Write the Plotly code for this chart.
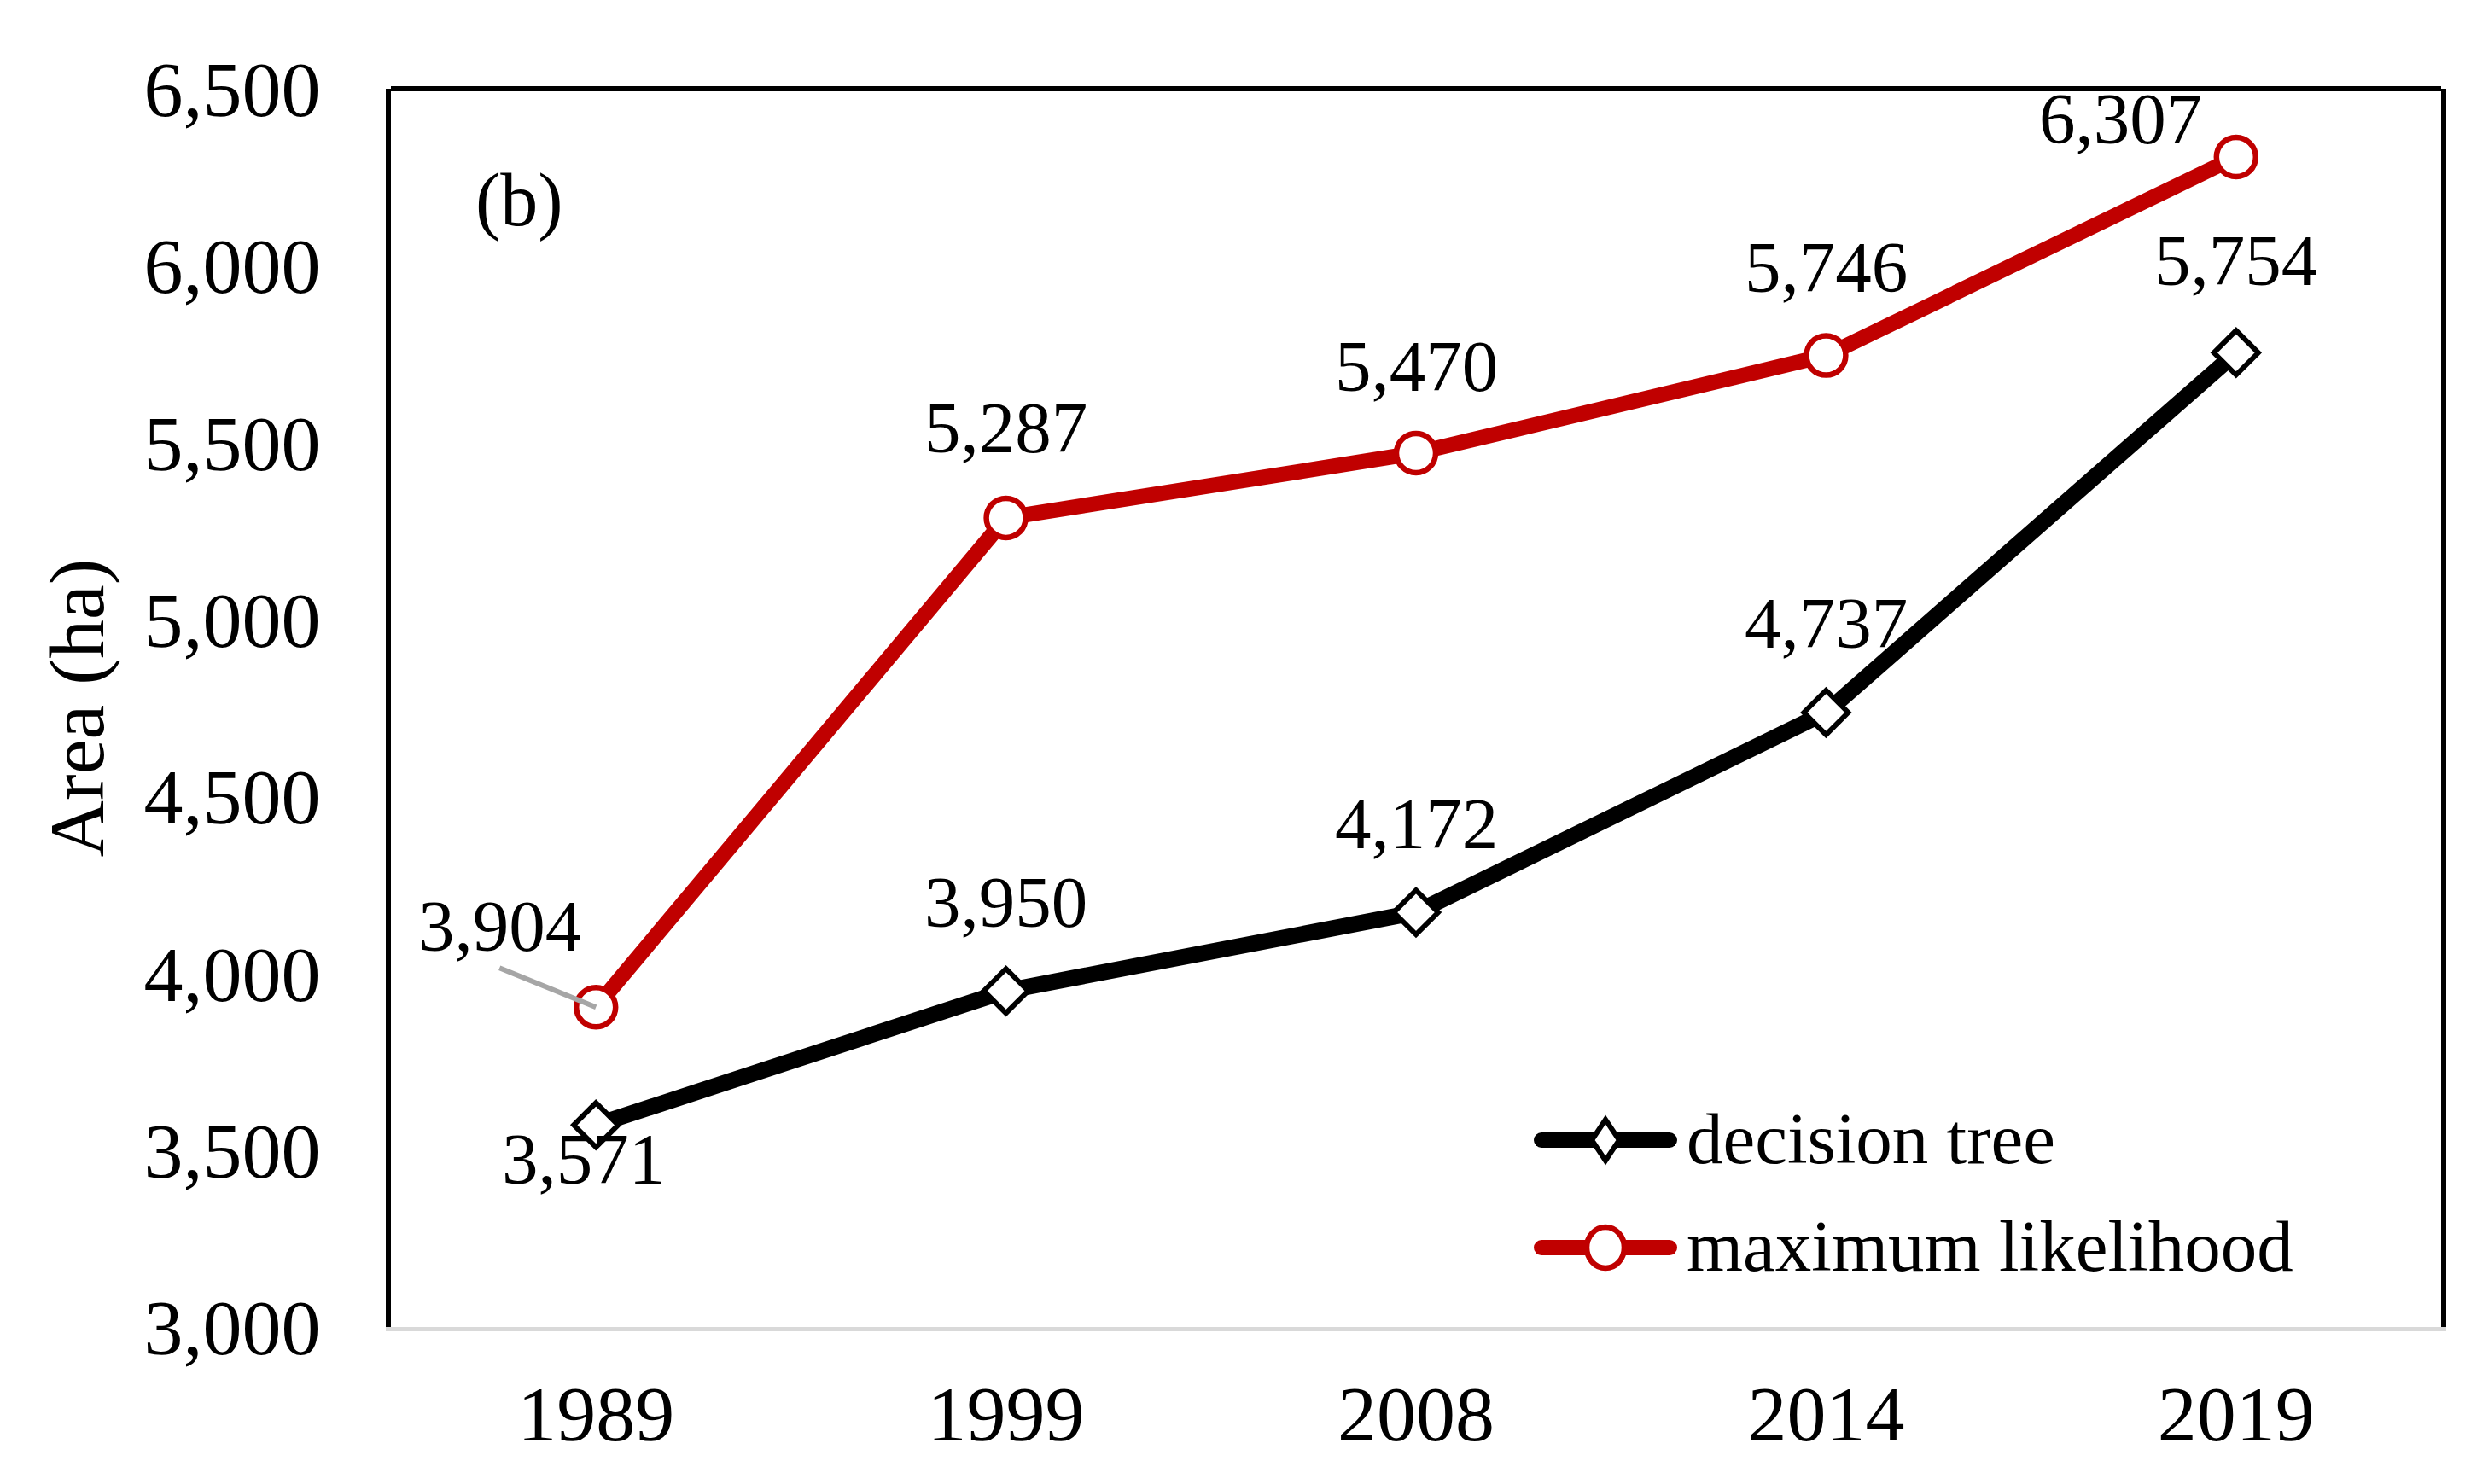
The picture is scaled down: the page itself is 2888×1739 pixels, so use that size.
import plotly.graph_objects as go

# ---- data ----
years = ["1989", "1999", "2008", "2014", "2019"]
decision_tree = [3571, 3950, 4172, 4737, 5754]
maximum_likelihood = [3904, 5287, 5470, 5746, 6307]
y_tick_values = [3000, 3500, 4000, 4500, 5000, 5500, 6000, 6500]
series_names = ["decision tree", "maximum likelihood"]
panel_label = "(b)"
y_title = "Area (ha)"

# ---- style / layout ----
W, H = 2888, 1739
PL, PR, PT, PB = 450, 2852, 96, 1547  # plot area in pixels
FONT = "Liberation Serif"
RED = "#C00000"
BLACK = "#000000"

def px_x(px):
    return (px - PL) / (PR - PL)

def px_y(py):
    return (PB - py) / (PB - PT)

# label offsets in pixels (xshift, yshift) per point
dt_label_shift = [(-15, -40), (0, 104), (0, 104), (0, 105), (0, 108)]
ml_label_shift = [None, (0, 106), (0, 102), (0, 104), (-135, 45)]

fig = go.Figure()
fig.add_trace(go.Scatter(
    x=years, y=decision_tree, mode="lines+markers", name=series_names[0],
    line=dict(color=BLACK, width=19),
    marker=dict(symbol="diamond", size=40, color="white",
                line=dict(color=BLACK, width=6)),
    showlegend=False, cliponaxis=False,
))
fig.add_trace(go.Scatter(
    x=years, y=maximum_likelihood, mode="lines+markers", name=series_names[1],
    line=dict(color=RED, width=18),
    marker=dict(symbol="circle", size=46, color="white",
                line=dict(color=RED, width=6.5)),
    showlegend=False, cliponaxis=False,
))

label_font = dict(family=FONT, size=85, color=BLACK)
annotations = []
# category axis: position annotations by category index
for i, v in enumerate(decision_tree):
    dx, dy = dt_label_shift[i]
    annotations.append(dict(x=i, y=v, xref="x", yref="y", text=f"{v:,}", showarrow=False,
                            xanchor="center", yanchor="middle",
                            xshift=dx, yshift=dy, font=label_font))
for i, v in enumerate(maximum_likelihood):
    if ml_label_shift[i] is None:
        annotations.append(dict(x=i, y=v, xref="x", yref="y", text=f"{v:,}", showarrow=True,
                                arrowhead=0, arrowwidth=6, arrowcolor="#A6A6A6",
                                ax=-113, ay=-46, standoff=0, startstandoff=0,
                                xanchor="center", yanchor="bottom",
                                font=label_font))
    else:
        dx, dy = ml_label_shift[i]
        annotations.append(dict(x=i, y=v, xref="x", yref="y", text=f"{v:,}", showarrow=False,
                                xanchor="center", yanchor="middle",
                                xshift=dx, yshift=dy, font=label_font))

# panel label
annotations.append(dict(xref="paper", yref="paper", x=px_x(600), y=px_y(226),
                        xanchor="center", yanchor="middle",
                        text=panel_label, showarrow=False,
                        font=dict(family=FONT, size=88, color=BLACK)))

# custom legend
shapes = []
legend_rows = [1328, 1454]
for row_y, name, color, sym in zip(legend_rows, series_names, [BLACK, RED], ["diamond", "circle"]):
    shapes.append(dict(type="line", xref="paper", yref="paper",
                       x0=px_x(1789 + 9), x1=px_x(1957 - 9), y0=px_y(row_y), y1=px_y(row_y),
                       line=dict(color=color, width=18)))
    shapes.append(dict(type="circle", xref="paper", yref="paper",
                       x0=px_x(1789), x1=px_x(1807), y0=px_y(row_y - 9), y1=px_y(row_y + 9),
                       fillcolor=color, line=dict(width=0)))
    shapes.append(dict(type="circle", xref="paper", yref="paper",
                       x0=px_x(1939), x1=px_x(1957), y0=px_y(row_y - 9), y1=px_y(row_y + 9),
                       fillcolor=color, line=dict(width=0)))
    cx = 1873
    if sym == "diamond":
        pts = [(cx, row_y - 24), (cx + 16, row_y), (cx, row_y + 24), (cx - 16, row_y)]
        path = "M " + " L ".join(f"{px_x(a)},{px_y(b)}" for a, b in pts) + " Z"
        shapes.append(dict(type="path", xref="paper", yref="paper", path=path,
                           fillcolor="white", line=dict(color=color, width=6)))
    else:
        shapes.append(dict(type="circle", xref="paper", yref="paper",
                           x0=px_x(cx - 22), x1=px_x(cx + 22),
                           y0=px_y(row_y - 24), y1=px_y(row_y + 24),
                           fillcolor="white", line=dict(color=color, width=6.5)))
    annotations.append(dict(xref="paper", yref="paper", x=px_x(1966), y=px_y(row_y - 2),
                            xanchor="left", yanchor="middle", text=name, showarrow=False,
                            font=dict(family=FONT, size=85, color=BLACK)))

# top spine
shapes.append(dict(type="line", xref="paper", yref="paper", x0=0, x1=1, y0=1, y1=1,
                   line=dict(color=BLACK, width=6)))

fig.update_layout(
    width=W, height=H,
    margin=dict(l=PL, r=W - PR, t=PT, b=H - PB, pad=0),
    paper_bgcolor="white", plot_bgcolor="white",
    font=dict(family=FONT, color=BLACK),
    annotations=annotations, shapes=shapes,
    showlegend=False,
)
fig.update_xaxes(
    type="category", range=[-0.5, 4.5],
    showline=True, linecolor="#D9D9D9", linewidth=5,
    showgrid=False, zeroline=False, ticks="",
    tickfont=dict(family=FONT, size=92, color=BLACK),
    ticklabelstandoff=18,
)
fig.update_yaxes(
    range=[3000, 6500], tickvals=y_tick_values,
    tickformat=",",
    showline=True, linecolor=BLACK, linewidth=6, mirror=True,
    showgrid=False, zeroline=False, ticks="",
    tickfont=dict(family=FONT, size=92, color=BLACK),
    ticklabelstandoff=58,
    title=dict(text=y_title, font=dict(family=FONT, size=92, color=BLACK), standoff=18),
)

fig.write_html("out.html")
